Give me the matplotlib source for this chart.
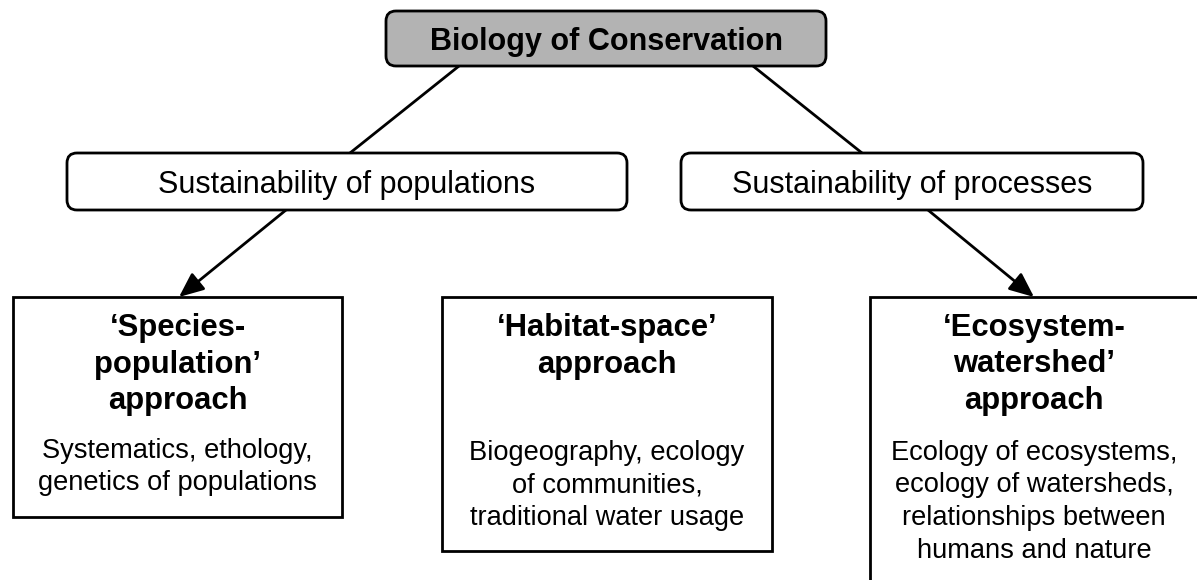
import matplotlib.pyplot as plt
from matplotlib.patches import FancyBboxPatch, Rectangle

plt.rcParams['font.family'] = ['Liberation Sans', 'DejaVu Sans']

root_label = 'Biology of Conservation'
branch_labels = ['Sustainability of populations', 'Sustainability of processes']
approach_titles = [["\u2018Species-", "population\u2019", "approach"],
                   ["\u2018Habitat-space\u2019", "approach"],
                   ["\u2018Ecosystem-", "watershed\u2019", "approach"]]
approach_texts = [['Systematics, ethology,', 'genetics of populations'],
                  ['Biogeography, ecology', 'of communities,', 'traditional water usage'],
                  ['Ecology of ecosystems,', 'ecology of watersheds,',
                   'relationships between', 'humans and nature']]

W, H = 1197, 580
fig = plt.figure(figsize=(W / 100, H / 100), dpi=100)
ax = fig.add_axes([0, 0, 1, 1])
ax.set_xlim(0, W)
ax.set_ylim(H, 0)
ax.axis('off')

lw = 2.0

def rbox(x0, y0, x1, y1, fc):
    p = FancyBboxPatch((x0, y0), x1 - x0, y1 - y0,
                       boxstyle='round,pad=0,rounding_size=10',
                       fc=fc, ec='black', lw=lw, zorder=3)
    ax.add_patch(p)

# root box
rbox(386, 11, 826, 66, '#b3b3b3')
ax.text(606, 50, root_label, ha='center', va='baseline', fontsize=22,
        fontweight='bold', zorder=4)

# branch boxes
branch_box = [(67, 153, 627, 210), (681, 153, 1143, 210)]
for (x0, y0, x1, y1), lab in zip(branch_box, branch_labels):
    rbox(x0, y0, x1, y1, 'white')
    ax.text((x0 + x1) / 2, 193, lab, ha='center', va='baseline',
            fontsize=22, zorder=4)

# connecting lines root -> branches
ax.plot([459, 350], [66, 153], color='black', lw=lw, zorder=2)
ax.plot([753, 862], [66, 153], color='black', lw=lw, zorder=2)

# arrows branches -> approaches
arrow = dict(arrowstyle='-|>,head_length=1.5,head_width=0.65',
             color='black', lw=lw, shrinkA=0, shrinkB=0)
ax.annotate('', xy=(179, 297), xytext=(286, 210), arrowprops=arrow, zorder=2)
ax.annotate('', xy=(1034, 297), xytext=(928, 210), arrowprops=arrow, zorder=2)

# approach boxes
app_box = [(13, 297, 342, 517), (442, 297, 772, 551), (870, 297, 1215, 600)]
centers = [177.5, 607, 1034]
title_base = 336
title_step = 36.5
text_base = [458, 460, 460]
text_step = 32.5
for i, (x0, y0, x1, y1) in enumerate(app_box):
    ax.add_patch(Rectangle((x0, y0), x1 - x0, y1 - y0, fc='white', ec='black',
                           lw=lw, zorder=3))
    for j, line in enumerate(approach_titles[i]):
        ax.text(centers[i], title_base + j * title_step, line, ha='center',
                va='baseline', fontsize=22.3, fontweight='bold', zorder=4)
    for j, line in enumerate(approach_texts[i]):
        ax.text(centers[i], text_base[i] + j * text_step, line, ha='center',
                va='baseline', fontsize=19.6, zorder=4)

fig.savefig('out.png', dpi=100)
